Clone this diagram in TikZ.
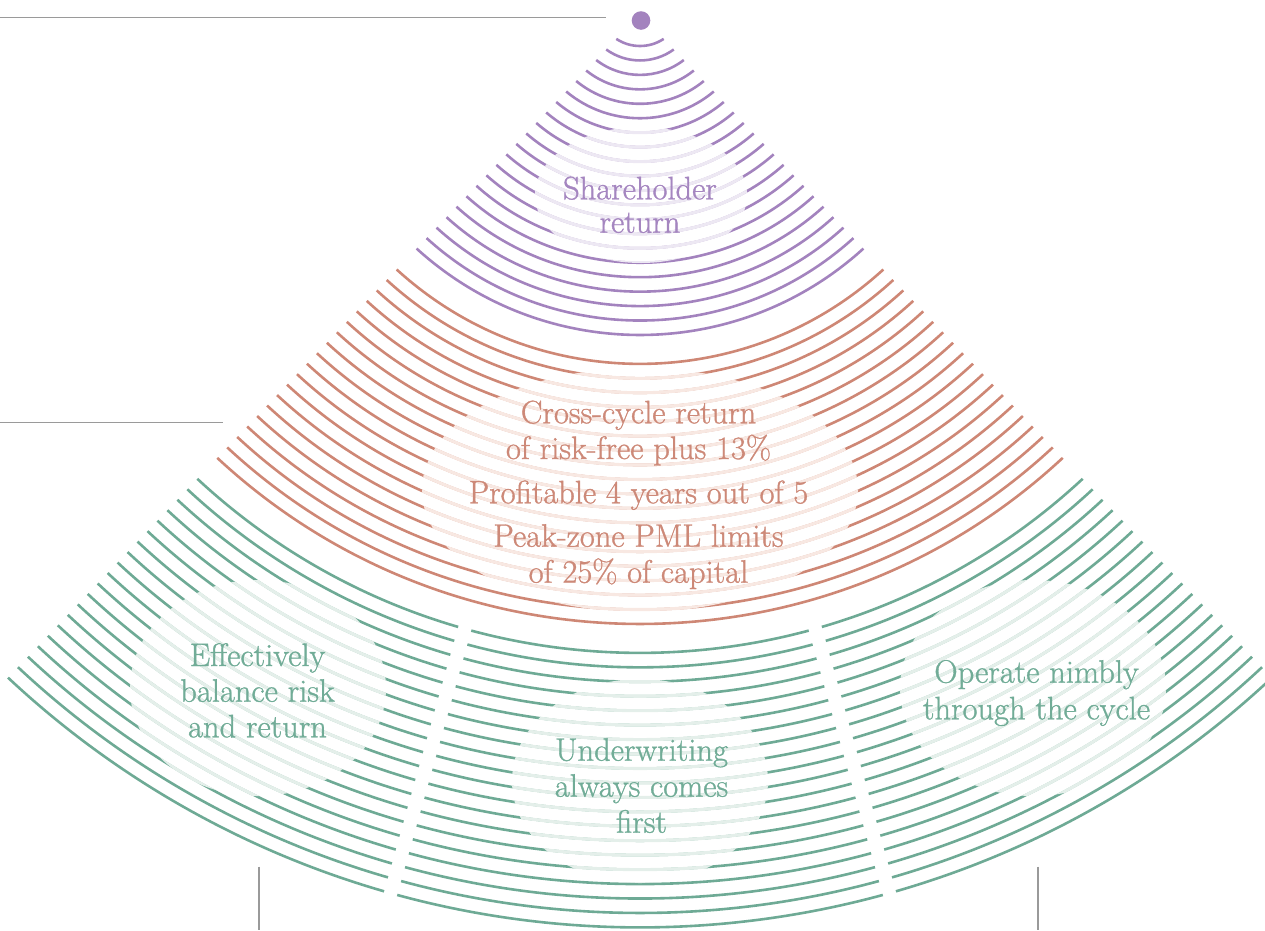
\documentclass[tikz,border=0pt]{standalone}
\usepackage{fontspec}
\newfontfamily\labelfont{Latin Modern Roman}[FakeBold=1.0]
\definecolor{purp}{HTML}{A383BE}
\definecolor{purptext}{HTML}{A586C0}
\definecolor{purppale}{HTML}{EDE8F3}
\definecolor{salm}{HTML}{CE8775}
\definecolor{salmtext}{HTML}{CD8978}
\definecolor{salmpale}{HTML}{F8E8E2}
\definecolor{grn}{HTML}{6EAA95}
\definecolor{grntext}{HTML}{71AC97}
\definecolor{grnpale}{HTML}{E4EFEA}
\definecolor{rule}{HTML}{9A9A9A}

% Concentric arcs about (640,-3), spaced 14.45pt; each arc ends on the two
% straight cone edges that leave (640,-14) at 43.6 degrees from the vertical.
\newcommand\fanhalfangle{%
  \pgfmathsetmacro\R{43+14.45*\k}%
  \pgfmathsetmacro\T{-0.079659+sqrt((\R/100)^2-0.0057545)}%
  \pgfmathsetmacro\Th{atan(\T*0.68962/(0.11+\T*0.72417))}%
}
\newcommand\drawband[3]{%
  \foreach \k in {#1,...,#2}{%
    \fanhalfangle
    \draw[#3] (640,-3) ++(270-\Th:\R)
      arc[start angle=270-\Th, end angle=270+\Th, radius=\R];
  }}
% Same arcs, cut into three pieces by two radial gaps at +-15.65 degrees
\newcommand\drawsplitband[3]{%
  \foreach \k in {#1,...,#2}{%
    \fanhalfangle
    \pgfmathsetmacro\G{6.8/\R*57.29578}%
    \draw[#3] (640,-3) ++(270-\Th:\R)
      arc[start angle=270-\Th, end angle=254.35-\G, radius=\R];
    \draw[#3] (640,-3) ++(254.35+\G:\R)
      arc[start angle=254.35+\G, end angle=285.65-\G, radius=\R];
    \draw[#3] (640,-3) ++(285.65+\G:\R)
      arc[start angle=285.65+\G, end angle=270+\Th, radius=\R];
  }}

\begin{document}
\begin{tikzpicture}[x=1pt, y=1pt,
    arcline/.style={line width=2.6pt},
    paleline/.style={line width=3.1pt},
    label/.style={anchor=base, inner sep=0pt,
      font=\labelfont\fontsize{32.5}{36}\selectfont},
    rulestyle/.style={draw=rule, line width=1.2pt}]
\useasboundingbox (0,0) rectangle (1265,-930);

% thin grey rules
\draw[rulestyle] (0,-17.7) -- (605.5,-17.7);
\draw[rulestyle] (0,-422.7) -- (222.5,-422.7);
\draw[rulestyle] (259,-866.7) -- (259,-930);
\draw[rulestyle] (1038,-866.7) -- (1038,-930);

% apex dot
\node[circle, fill=purp, minimum size=18.6pt, inner sep=0pt] (apex) at (641,-20.5) {};

% purple band
\drawband{0}{20}{arcline, purp}
\begin{scope}
  \clip (641,-195) ellipse [x radius=106, y radius=68];
  \drawband{0}{20}{paleline, purppale}
\end{scope}

% salmon band
\drawband{22}{40}{arcline, salm}
\begin{scope}
  \clip (640,-490) ellipse [x radius=218, y radius=122];
  \drawband{22}{40}{paleline, salmpale}
\end{scope}

% green band, three sectors
\drawsplitband{42}{61}{arcline, grn}
\begin{scope}
  \clip (258,-688) ellipse [x radius=128, y radius=108]
        (640,-781) ellipse [x radius=128, y radius=102]
        (1033,-688) ellipse [x radius=133, y radius=108];
  \drawsplitband{42}{61}{paleline, grnpale}
\end{scope}

% labels
\node[label, text=purptext] (sh1) at (640,-199.3) {Shareholder};
\node[label, text=purptext] (sh2) at (640,-232.7) {return};

\node[label, text=salmtext] (cc1) at (638.5,-423.3) {Cross-cycle return};
\node[label, text=salmtext] (cc2) at (638.5,-459) {of risk-free plus 13\%};
\node[label, text=salmtext] (pf)  at (638.5,-503.3) {Profitable 4 years out of 5};
\node[label, text=salmtext] (pk1) at (638.5,-546.7) {Peak-zone PML limits};
\node[label, text=salmtext] (pk2) at (638.5,-582.7) {of 25\% of capital};

\node[label, text=grntext] (eb1) at (257.5,-666) {Effectively};
\node[label, text=grntext] (eb2) at (257.5,-701.7) {balance risk};
\node[label, text=grntext] (eb3) at (257.5,-737.3) {and return};

\node[label, text=grntext] (uw1) at (641.5,-760.7) {Underwriting};
\node[label, text=grntext] (uw2) at (641.5,-796.7) {always comes};
\node[label, text=grntext] (uw3) at (641.5,-832.7) {first};

\node[label, text=grntext] (op1) at (1036.5,-682.7) {Operate nimbly};
\node[label, text=grntext] (op2) at (1036.5,-719.3) {through the cycle};
\end{tikzpicture}
\end{document}
